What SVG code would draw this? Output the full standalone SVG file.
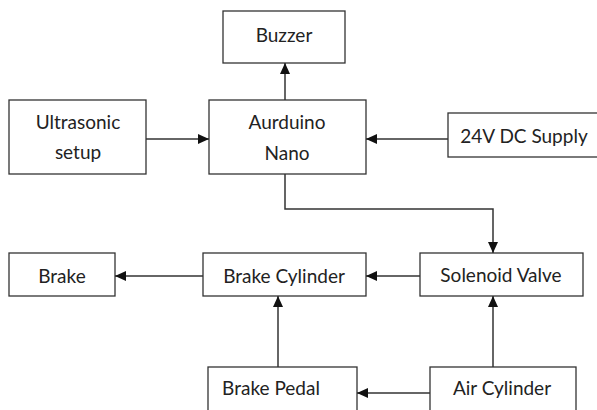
<svg xmlns="http://www.w3.org/2000/svg" width="597" height="410" viewBox="0 0 597 410">
<defs>
<marker id="ah" markerWidth="11" markerHeight="10" refX="11" refY="5" orient="auto" markerUnits="userSpaceOnUse">
<path d="M0,0 L11,5 L0,10 Z" fill="#111"/>
</marker>
<style>
.box{fill:#fff;stroke:#333;stroke-width:1.3}
.t{font-family:Lato,"Liberation Sans",sans-serif;font-size:19px;fill:#222;text-anchor:middle}
.c{fill:none;stroke:#333;stroke-width:1.5}
</style>
</defs>
<rect width="597" height="410" fill="#fff"/>
<g id="buzzer"><rect class="box" x="223" y="11" width="122" height="52"/><text class="t" x="284" y="42">Buzzer</text></g>
<g id="ultrasonic"><rect class="box" x="9" y="100" width="137" height="74"/><text class="t" x="78" y="129">Ultrasonic</text><text class="t" x="78" y="159">setup</text></g>
<g id="arduino"><rect class="box" x="209" y="100" width="157" height="74"/><text class="t" x="287" y="129">Aurduino</text><text class="t" x="287" y="160">Nano</text></g>
<g id="supply"><rect class="box" x="448" y="113" width="160" height="44"/><text class="t" x="524" y="143">24V DC Supply</text></g>
<g id="brake"><rect class="box" x="9" y="253" width="106" height="43"/><text class="t" x="62" y="283">Brake</text></g>
<g id="brakecylinder"><rect class="box" x="203" y="253" width="163" height="43"/><text class="t" x="284" y="283">Brake Cylinder</text></g>
<g id="solenoid"><rect class="box" x="420" y="253" width="163" height="43"/><text class="t" x="501" y="282">Solenoid Valve</text></g>
<g id="brakepedal"><rect class="box" x="208" y="367" width="149" height="60"/><text class="t" x="271" y="395">Brake Pedal</text></g>
<g id="aircylinder"><rect class="box" x="430" y="367" width="146" height="60"/><text class="t" x="502" y="395">Air Cylinder</text></g>
<g id="connectors">
<line class="c" x1="285" y1="100" x2="285" y2="63" marker-end="url(#ah)"/>
<line class="c" x1="146" y1="139" x2="209" y2="139" marker-end="url(#ah)"/>
<line class="c" x1="448" y1="139" x2="366" y2="139" marker-end="url(#ah)"/>
<polyline class="c" points="285,174 285,209 493,209 493,253" marker-end="url(#ah)"/>
<line class="c" x1="420" y1="276" x2="366" y2="276" marker-end="url(#ah)"/>
<line class="c" x1="203" y1="276" x2="115" y2="276" marker-end="url(#ah)"/>
<line class="c" x1="278" y1="367" x2="278" y2="296" marker-end="url(#ah)"/>
<line class="c" x1="493" y1="367" x2="493" y2="296" marker-end="url(#ah)"/>
<line class="c" x1="430" y1="393" x2="357" y2="393" marker-end="url(#ah)"/>
</g>
</svg>
